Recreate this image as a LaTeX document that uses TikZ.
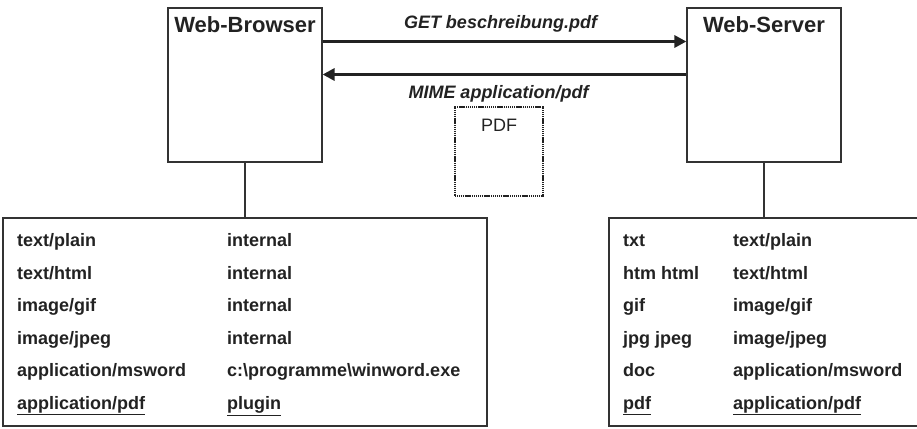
\documentclass[tikz,border=0pt]{standalone}
\usepackage{fontspec}
\setmainfont{Liberation Sans}
\usetikzlibrary{arrows.meta}
\definecolor{ink}{HTML}{222222}
\definecolor{edge}{HTML}{333333}
\tikzset{
  sysbox/.style={draw=edge, line width=1.2pt, minimum width=154pt, minimum height=154pt, inner sep=0pt},
  tablebox/.style={draw=edge, line width=1.2pt, inner sep=0pt},
  title/.style={font=\fontsize{22}{24}\selectfont\bfseries, text=ink, anchor=base, inner sep=0pt},
  msg/.style={font=\fontsize{18}{21}\selectfont\bfseries\itshape, text=ink, anchor=base, inner sep=0pt},
  cell/.style={font=\fontsize{18}{20}\selectfont\bfseries, text=ink, anchor=base west, inner sep=0pt},
  flow/.style={draw=ink, line width=3pt, -{Triangle[length=12pt,width=12pt]}},
  link/.style={draw=edge, line width=1.2pt},
  doc/.style={draw=ink, line width=2pt, dash pattern=on 1.2pt off 0.7pt, minimum width=88pt, minimum height=89pt, inner sep=0pt},
}
\begin{document}
\begin{tikzpicture}[x=1pt,y=-1pt]
\useasboundingbox (0,0) rectangle (917,428);
% system boxes
\node[sysbox] (browser) at (245,85) {};
\node[sysbox] (server) at (764,85) {};
\node[title] (tb) at (245,33) {Web-Browser};
\node[title] (ts) at (764,33) {Web-Server};
% tables
\node[tablebox, minimum width=484pt, minimum height=208pt] (ltab) at (245,322) {};
\node[tablebox, minimum width=310pt, minimum height=208pt] (rtab) at (764,322) {};
\draw[link] (browser.south) -- (ltab.north);
\draw[link] (server.south) -- (rtab.north);
% messages
\coordinate (g1) at (browser.east |- 0,41.5);
\coordinate (g2) at (server.west |- 0,41.5);
\coordinate (m1) at (browser.east |- 0,74.5);
\coordinate (m2) at (server.west |- 0,74.5);
\draw[flow] (g1) -- (g2);
\draw[flow] (m2) -- (m1);
\node[msg] (get) at (500.5,29) {GET beschreibung.pdf};
\node[msg] (mime) at (498.5,98) {MIME application/pdf};
% PDF document
\node[doc] (pdf) at (499,151.5) {};
\node[font=\fontsize{18}{21}\selectfont, text=ink, anchor=base, inner sep=0pt] (pdft) at (499,131.5) {PDF};
% left table
\node[cell] (l1a) at (17,246.5) {text/plain};
\node[cell] (l1b) at (227,246.5) {internal};
\node[cell] (l2a) at (17,279) {text/html};
\node[cell] (l2b) at (227,279) {internal};
\node[cell] (l3a) at (17,311.5) {image/gif};
\node[cell] (l3b) at (227,311.5) {internal};
\node[cell] (l4a) at (17,344) {image/jpeg};
\node[cell] (l4b) at (227,344) {internal};
\node[cell] (l5a) at (17,376.5) {application/msword};
\node[cell] (l5b) at (227,376.5) {c:\textbackslash programme\textbackslash winword.exe};
\node[cell] (l6a) at (17,409.5) {\underline{application/pdf}};
\node[cell] (l6b) at (227,409.5) {\underline{plugin}};
% right table
\node[cell] (r1a) at (623,246.5) {txt};
\node[cell] (r1b) at (733,246.5) {text/plain};
\node[cell] (r2a) at (623,279) {htm html};
\node[cell] (r2b) at (733,279) {text/html};
\node[cell] (r3a) at (623,311.5) {gif};
\node[cell] (r3b) at (733,311.5) {image/gif};
\node[cell] (r4a) at (623,344) {jpg jpeg};
\node[cell] (r4b) at (733,344) {image/jpeg};
\node[cell] (r5a) at (623,376.5) {doc};
\node[cell] (r5b) at (733,376.5) {application/msword};
\node[cell] (r6a) at (623,409.5) {\underline{pdf}};
\node[cell] (r6b) at (733,409.5) {\underline{application/pdf}};
\end{tikzpicture}
\end{document}
